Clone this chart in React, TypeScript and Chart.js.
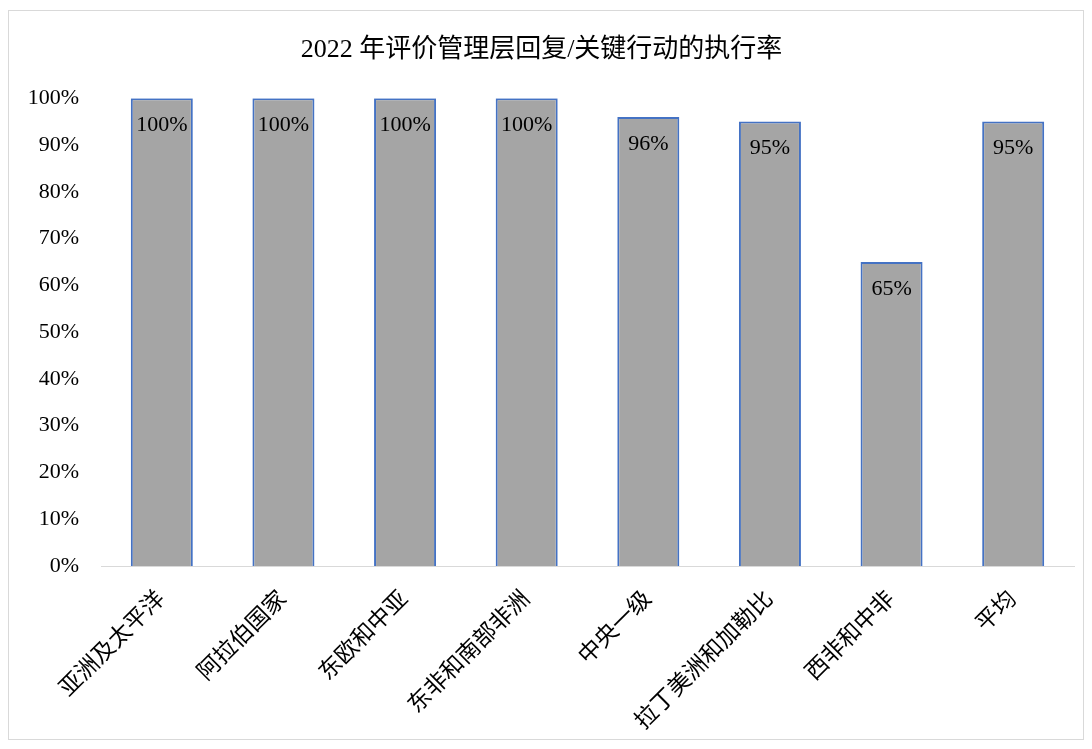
import React, { useEffect, useRef } from "react";
import { Chart, registerables } from "chart.js";

Chart.register(...registerables);

const categories = ["亚洲及太平洋", "阿拉伯国家", "东欧和中亚", "东非和南部非洲", "中央一级", "拉丁美洲和加勒比", "西非和中非", "平均"];
const values = [100, 100, 100, 100, 96, 95, 65, 95];
const yTicks = [0, 10, 20, 30, 40, 50, 60, 70, 80, 90, 100];
const title = "2022 年评价管理层回复/关键行动的执行率";

const FONT = "'Liberation Serif', 'Times New Roman', 'Noto Sans CJK SC', serif";

const labelPlugin = {
  id: "barLabels",
  afterDatasetsDraw(chart: any) {
    const ctx = chart.ctx;
    const meta = chart.getDatasetMeta(0);
    ctx.save();
    ctx.font = `22px ${FONT}`;
    ctx.fillStyle = "#000";
    ctx.textAlign = "center";
    ctx.textBaseline = "middle";
    meta.data.forEach((bar: any, i: number) => {
      ctx.fillText(values[i] + "%", bar.x, bar.y + 27);
    });
    ctx.restore();
  },
};

export default function App() {
  const ref = useRef<HTMLCanvasElement>(null);
  useEffect(() => {
    if (!ref.current) return;
    const chart = new Chart(ref.current, {
      type: "bar",
      data: {
        labels: categories,
        datasets: [
          {
            data: values,
            backgroundColor: "#a5a5a5",
            borderColor: "#4472c4",
            borderWidth: 2,
            barPercentage: 0.51,
            categoryPercentage: 1,
          },
        ],
      },
      options: {
        animation: false,
        responsive: false,
        layout: { padding: { top: 10, left: 0, right: 9, bottom: 0 } },
        plugins: {
          legend: { display: false },
          tooltip: { enabled: false },
          title: {
            display: true,
            text: title,
            color: "#000",
            font: { family: FONT, size: 26, weight: "normal" },
            padding: { top: 14, bottom: 32 },
          },
        },
        scales: {
          x: {
            grid: { display: false, drawTicks: false },
            border: { display: true, color: "#d9d9d9", width: 1 },
            ticks: {
              color: "#000",
              font: { family: FONT, size: 23 },
              minRotation: 45,
              maxRotation: 45,
              padding: 20,
            },
            afterFit: (s: any) => {
              s.height = 173;
            },
          },
          y: {
            min: 0,
            max: 100,
            grid: { display: false, drawTicks: false },
            border: { display: false },
            afterBuildTicks: (s: any) => {
              s.ticks = yTicks.map((v) => ({ value: v }));
            },
            ticks: {
              color: "#000",
              font: { family: FONT, size: 22 },
              padding: 22,
              callback: (v: any) => v + "%",
            },
            afterFit: (s: any) => {
              s.width = 92;
            },
          },
        },
      },
      plugins: [labelPlugin],
    });
    return () => chart.destroy();
  }, []);
  return (
    <div
      style={{
        position: "absolute",
        left: 8,
        top: 10,
        width: 1076,
        height: 730,
        border: "1px solid #d9d9d9",
        boxSizing: "border-box",
        background: "#fff",
      }}
    >
      <canvas ref={ref} width={1074} height={728} style={{ display: "block" }} />
    </div>
  );
}
